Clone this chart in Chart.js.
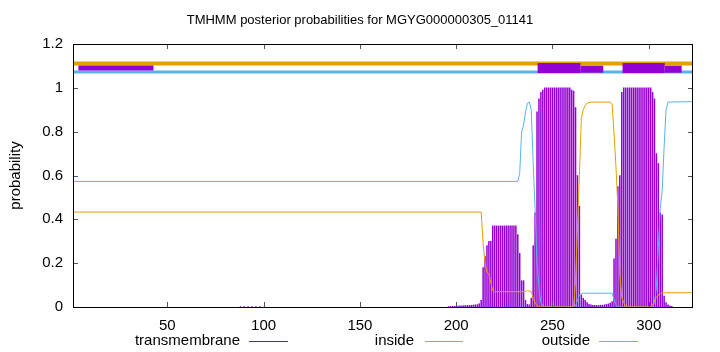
<!DOCTYPE html>
<html>
<head>
<meta charset="utf-8">
<script src="https://cdn.jsdelivr.net/npm/chart.js@4.4.1/dist/chart.umd.min.js"></script>
<style>
  html, body { margin: 0; padding: 0; background: #fff; }
  #wrap { width: 720px; height: 352px; }
</style>
</head>
<body>
<div id="wrap"><canvas id="tmhmm" width="720" height="352"></canvas></div>
<script>
const chartTitle = "TMHMM posterior probabilities for MGYG000000305_01141";
const seqLength = 323;
const xTicks = [50, 100, 150, 200, 250, 300];
const yTicks = [0, 0.2, 0.4, 0.6, 0.8, 1, 1.2];
const seriesNames = ["transmembrane", "inside", "outside"];

// transmembrane posterior, drawn as impulses (residue -> probability)
const tmResidue = [
  88, 90, 92, 94, 96, 98,
  196, 197, 198, 199, 200, 201, 202, 203, 204, 205, 206, 207, 208, 209, 210, 211, 212, 213,
  214, 215, 216, 217, 218, 219, 220, 221, 222, 223, 224, 225, 226, 227, 228, 229, 230, 231,
  232, 233, 234, 235, 236, 237, 238, 239,
  240, 241, 242, 243, 244, 245, 246, 247, 248, 249, 250, 251, 252, 253, 254, 255, 256, 257, 258, 259,
  260, 261, 262, 263, 264, 265, 266, 267, 268, 269, 270, 271, 272, 273, 274, 275, 276, 277, 278, 279, 280, 281,
  282, 283, 284, 285, 286, 287, 288, 289, 290, 291, 292, 293, 294, 295, 296, 297, 298, 299, 300, 301,
  302, 303, 304, 305, 306, 307, 308, 309, 310, 311, 312
];
const tmProb = [
  0.002, 0.002, 0.002, 0.002, 0.002, 0.002,
  0.002, 0.002, 0.003, 0.003, 0.004, 0.004, 0.005, 0.005, 0.006, 0.006, 0.007, 0.007, 0.008, 0.009, 0.01, 0.011, 0.015, 0.03,
  0.18, 0.23, 0.28, 0.30, 0.30, 0.37, 0.37, 0.37, 0.37, 0.37, 0.37, 0.37, 0.37, 0.37, 0.37, 0.37, 0.37, 0.37,
  0.33, 0.245, 0.12, 0.12, 0.03, 0.012, 0.01, 0.04,
  0.28, 0.43, 0.89, 0.95, 0.98, 0.99, 1, 1, 1, 1, 1, 1, 1, 1, 1, 1, 1, 1, 1, 1,
  0.99, 0.985, 0.91, 0.60, 0.46, 0.055, 0.04, 0.03, 0.02, 0.012, 0.01, 0.008, 0.008, 0.007, 0.007, 0.008, 0.008, 0.01, 0.012, 0.014, 0.018, 0.025,
  0.22, 0.31, 0.55, 0.60, 0.98, 1, 1, 1, 1, 1, 1, 1, 1, 1, 1, 1, 1, 1, 1, 1,
  0.98, 0.95, 0.70, 0.655, 0.43, 0.42, 0.05, 0.02, 0.01, 0.005, 0.003
];

// inside posterior (line)
const insideX = [1, 232, 233, 234, 235, 236, 237, 238, 239, 240, 241, 242, 243, 244, 245, 246,
  261, 262, 263, 264, 265, 266, 281, 282, 283, 284, 302, 303, 304, 305, 306, 307, 308, 309, 310, 323];
const insideY = [0.573, 0.573, 0.61, 0.80, 0.83, 0.89, 0.93, 0.935, 0.90, 0.66, 0.44, 0.20, 0.09, 0.02, 0.005, 0,
  0, 0.005, 0.03, 0.055, 0.06, 0.063, 0.063, 0.035, 0.01, 0, 0, 0.02, 0.09, 0.27, 0.45, 0.53, 0.73, 0.90, 0.935, 0.937];

// outside posterior (line)
const outsideX = [1, 213, 214, 215, 216, 217, 218, 219, 220, 236, 237, 239, 240, 241, 242, 243,
  261, 262, 263, 264, 265, 266, 267, 268, 270, 280, 281, 282, 283, 284, 285, 286, 287, 288, 289,
  301, 302, 303, 304, 305, 306, 307, 323];
const outsideY = [0.433, 0.433, 0.29, 0.2, 0.16, 0.15, 0.11, 0.075, 0.07, 0.07, 0.075, 0.07, 0.04, 0.02, 0.005, 0,
  0, 0.12, 0.36, 0.60, 0.86, 0.90, 0.92, 0.93, 0.935, 0.935, 0.925, 0.79, 0.64, 0.45, 0.15, 0.045, 0.02, 0.005, 0,
  0, 0.01, 0.03, 0.045, 0.055, 0.06, 0.065, 0.065];

// predicted topology strip at the top
const outsideBand = [[1, 323]];
const insideBand = [[1, 323]];
const leadSegments = [[3.8, 42.8]];
const tmSegments = [[242.3, 264.5], [286.4, 308.3]];
const flankSegments = [[264.5, 276.4], [308.3, 317.1]];

const colTM = '#9400d3';
const colIn = '#56b4e9';
const colOut = '#e69f00';
const fontFam = '"Liberation Sans", Arial, sans-serif';

function pts(xs, ys) {
  return xs.map((x, i) => ({ x: x, y: ys[i] }));
}
function band(segs, level, color, width, order) {
  return segs.map(s => ({
    type: 'line',
    data: [{ x: s[0], y: level }, { x: s[1], y: level }],
    borderColor: color,
    borderWidth: width,
    borderCapStyle: 'butt',
    pointRadius: 0,
    order: order
  }));
}

const datasets = [
  {
    type: 'bar',
    label: seriesNames[0],
    data: pts(tmResidue, tmProb),
    backgroundColor: colTM,
    borderWidth: 0,
    barThickness: 0.85,
    grouped: false,
    order: 20
  },
  {
    type: 'line',
    label: seriesNames[1],
    data: pts(insideX, insideY),
    borderColor: colIn,
    borderWidth: 1,
    pointRadius: 0,
    order: 19
  },
  {
    type: 'line',
    label: seriesNames[2],
    data: pts(outsideX, outsideY),
    borderColor: colOut,
    borderWidth: 1,
    pointRadius: 0,
    order: 18
  }
].concat(
  band(outsideBand, 1.111, colOut, 4, 10),
  band(insideBand, 1.072, colIn, 3, 9),
  band(leadSegments, 1.09, colTM, 5, 5),
  band(tmSegments, 1.09, colTM, 10, 4),
  band(flankSegments, 1.085, colTM, 7, 3)
);

// gnuplot style frame, inward ticks, title and legend
const gnuFrame = {
  id: 'gnuFrame',
  afterDatasetsDraw(chart) {
    const { ctx, chartArea: a, scales } = chart;
    ctx.save();
    ctx.strokeStyle = '#555';
    ctx.lineWidth = 1;
    ctx.beginPath();
    xTicks.forEach(v => {
      const px = Math.round(scales.x.getPixelForValue(v)) + 0.5;
      ctx.moveTo(px, a.bottom); ctx.lineTo(px, a.bottom - 5);
      ctx.moveTo(px, a.top); ctx.lineTo(px, a.top + 5);
    });
    yTicks.forEach(v => {
      const py = Math.round(scales.y.getPixelForValue(v)) + 0.5;
      ctx.moveTo(a.left, py); ctx.lineTo(a.left + 5, py);
      ctx.moveTo(a.right, py); ctx.lineTo(a.right - 5, py);
    });
    ctx.stroke();
    ctx.strokeStyle = '#000';
    ctx.strokeRect(a.left + 0.5, a.top + 0.5, a.right - a.left - 1, a.bottom - a.top);
    ctx.restore();
  },
  afterDraw(chart) {
    const { ctx, chartArea: a } = chart;
    ctx.save();
    ctx.fillStyle = '#000';
    ctx.font = '13px ' + fontFam;
    ctx.textAlign = 'center';
    ctx.textBaseline = 'middle';
    ctx.fillText(chartTitle, 360, 20);

    ctx.font = '15px ' + fontFam;
    ctx.save();
    ctx.translate(16, (a.top + a.bottom) / 2);
    ctx.rotate(-Math.PI / 2);
    ctx.fillText('probability', 0, 0);
    ctx.restore();

    const keys = [
      { name: seriesNames[0], color: colTM, right: 240, x1: 249, x2: 288 },
      { name: seriesNames[1], color: colIn, right: 414, x1: 425, x2: 463 },
      { name: seriesNames[2], color: colOut, right: 590, x1: 599, x2: 638 }
    ];
    ctx.textAlign = 'right';
    keys.forEach(k => {
      ctx.fillStyle = '#000';
      ctx.fillText(k.name, k.right, 341);
      ctx.strokeStyle = k.color;
      ctx.lineWidth = 1;
      ctx.beginPath();
      ctx.moveTo(k.x1, 341.5);
      ctx.lineTo(k.x2, 341.5);
      ctx.stroke();
    });
    ctx.restore();
  }
};

const tickFont = { family: fontFam, size: 15 };

new Chart(document.getElementById('tmhmm'), {
  type: 'bar',
  data: { datasets: datasets },
  options: {
    responsive: false,
    animation: false,
    devicePixelRatio: 1,
    layout: { padding: { top: 44, right: 27, left: 0, bottom: 0 } },
    plugins: {
      legend: { display: false },
      title: { display: false },
      tooltip: { enabled: false }
    },
    scales: {
      x: {
        type: 'linear',
        min: 1,
        max: seqLength,
        offset: false,
        grid: { display: false, drawTicks: false },
        border: { display: false },
        afterBuildTicks: ax => { ax.ticks = xTicks.map(v => ({ value: v })); },
        afterFit: ax => { ax.height = 45; },
        ticks: { padding: 10, color: '#000', font: tickFont, maxRotation: 0, autoSkip: false }
      },
      y: {
        type: 'linear',
        min: 0,
        max: 1.2,
        grid: { display: false, drawTicks: false },
        border: { display: false },
        afterBuildTicks: ax => { ax.ticks = yTicks.map(v => ({ value: v })); },
        afterFit: ax => { ax.width = 73; },
        ticks: { padding: 10, color: '#000', font: tickFont, callback: v => String(v) }
      }
    }
  },
  plugins: [gnuFrame]
});
</script>
</body>
</html>
